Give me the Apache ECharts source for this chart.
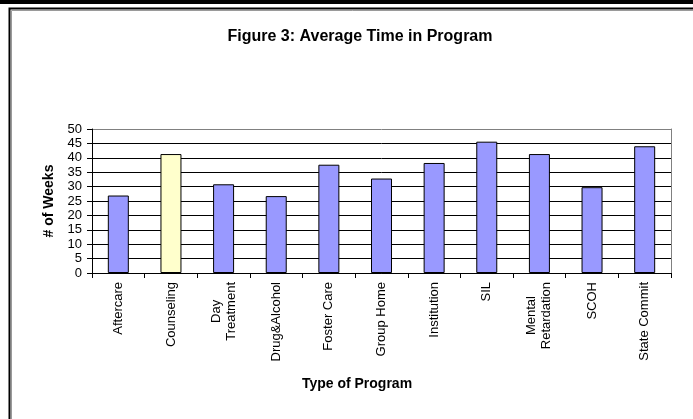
<!DOCTYPE html>
<html>
<head>
<meta charset="utf-8">
<script src="https://cdn.jsdelivr.net/npm/echarts@6/dist/echarts.min.js"></script>
<style>
html,body{margin:0;padding:0;background:#fff;}
#chart{width:693px;height:419px;}
</style>
</head>
<body>
<div id="chart"></div>
<script>
var categories = ['Aftercare', 'Counseling', 'Day\nTreatment', 'Drug&Alcohol', 'Foster Care', 'Group Home', 'Institution', 'SIL', 'Mental\nRetardation', 'SCOH', 'State Commit'];
var weeks = [26.9, 41.3, 30.8, 26.7, 37.6, 32.8, 38.2, 45.6, 41.3, 29.8, 44.0];
var yTicks = [0, 5, 10, 15, 20, 25, 30, 35, 40, 45, 50];
var highlightIndex = 1;

var chart = echarts.init(document.getElementById('chart'), null, {renderer: 'canvas'});
var FONT = 'Liberation Sans, Arial, sans-serif';

var gridColors = yTicks.map(function (v, i) { return i === yTicks.length - 1 ? '#808080' : '#000000'; });

chart.setOption({
  animation: false,
  backgroundColor: '#ffffff',
  graphic: [
    {type: 'rect', shape: {x: 0, y: 0, width: 693, height: 4}, style: {fill: '#000'}},
    {type: 'rect', shape: {x: 9.5, y: 8.5, width: 700, height: 420}, style: {fill: 'none', stroke: '#000', lineWidth: 2}},
    {type: 'rect', shape: {x: 11.5, y: 10.5, width: 700, height: 420}, style: {fill: 'none', stroke: '#9a9a9a', lineWidth: 1}}
  ],
  title: [
    {text: 'Figure 3: Average Time in Program', left: 355, top: 24, textAlign: 'center',
     textStyle: {fontFamily: FONT, fontSize: 16, fontWeight: 'bold', color: '#000'}},
    {text: 'Type of Program', left: 352, top: 372, textAlign: 'center',
     textStyle: {fontFamily: FONT, fontSize: 14, fontWeight: 'bold', color: '#000'}}
  ],
  grid: {left: 92, top: 129, width: 579, height: 144, containLabel: false},
  xAxis: {
    type: 'category',
    data: categories,
    axisLine: {show: true, lineStyle: {color: '#000', width: 1}},
    axisTick: {show: true, length: 5, lineStyle: {color: '#000'}},
    axisLabel: {
      rotate: 90, margin: 9, interval: 0, color: '#000',
      fontFamily: FONT, fontSize: 13, lineHeight: 15,
      formatter: function (v) {
        return v.split('\n').map(function (s) { return '{c|' + s + '}'; }).join('\n');
      },
      rich: {c: {fontFamily: FONT, fontSize: 13, color: '#000', align: 'center', lineHeight: 15}}
    },
    splitLine: {show: false}
  },
  yAxis: [{
    type: 'value', min: 0, max: 50, interval: 5,
    name: '# of Weeks', nameLocation: 'middle', nameGap: 29,
    nameTextStyle: {fontFamily: FONT, fontSize: 14, fontWeight: 'bold', color: '#000'},
    axisLine: {show: true, lineStyle: {color: '#000', width: 1}},
    axisTick: {show: true, length: 5, inside: false, lineStyle: {color: '#000'}},
    axisLabel: {margin: 10, color: '#000', fontFamily: FONT, fontSize: 13},
    splitLine: {show: true, lineStyle: {color: gridColors, width: 1}}
  }, {
    type: 'value', min: 0, max: 50, interval: 5, position: 'right',
    axisLine: {show: true, lineStyle: {color: '#808080', width: 1}},
    axisTick: {show: false}, axisLabel: {show: false}, splitLine: {show: false}
  }],
  series: [{
    type: 'bar',
    data: weeks.map(function (v, i) {
      return {value: v, itemStyle: {color: i === highlightIndex ? '#FFFFCC' : '#9999FF'}};
    }),
    barWidth: 21,
    itemStyle: {borderColor: '#000', borderWidth: 1},
    emphasis: {disabled: true}
  }]
});
</script>
</body>
</html>
